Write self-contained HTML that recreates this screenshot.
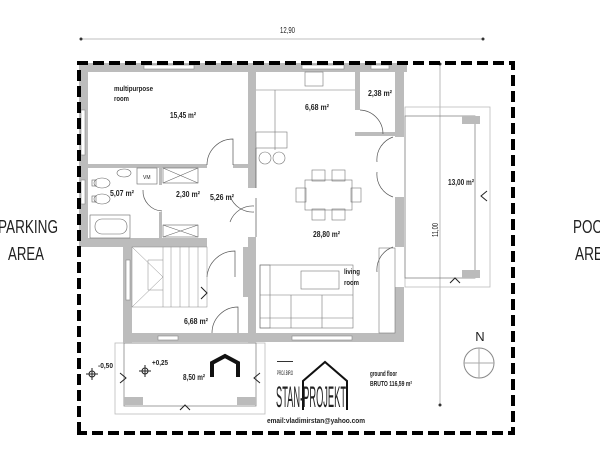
<!DOCTYPE html>
<html><head><meta charset="utf-8"><style>
html,body{margin:0;padding:0;background:#fff;width:600px;height:460px;overflow:hidden}
svg{display:block}
text{font-family:"Liberation Sans Narrow","Liberation Sans",sans-serif;fill:#222}
.b{font-weight:bold}
</style></head><body>
<svg width="600" height="460" viewBox="0 0 600 460" xmlns="http://www.w3.org/2000/svg">
<line x1="81" y1="39" x2="483" y2="39" stroke="#aaa" stroke-width="0.8"/>
<circle cx="81" cy="39" r="1.5" fill="#333"/><circle cx="483" cy="39" r="1.5" fill="#333"/>
<text x="280" y="33" font-size="8" textLength="15" lengthAdjust="spacingAndGlyphs">12,90</text>
<line x1="440" y1="64" x2="440" y2="405" stroke="#aaa" stroke-width="0.8"/>
<circle cx="440" cy="64" r="1.5" fill="#333"/><circle cx="440" cy="405" r="1.5" fill="#333"/>
<text x="0" y="0" font-size="8" transform="translate(438,237) rotate(-90)" textLength="14" lengthAdjust="spacingAndGlyphs">11,00</text>

<rect x="405" y="107" width="85" height="180" fill="none" stroke="#bbb" stroke-width="0.8"/>
<rect x="405" y="116" width="70" height="162" fill="none" stroke="#888" stroke-width="0.8"/>
<rect x="462" y="116" width="18" height="8" fill="#bbb"/>
<rect x="462" y="270" width="18" height="8" fill="#bbb"/>
<text class="b" x="448" y="185" font-size="8" textLength="26" lengthAdjust="spacingAndGlyphs">13,00 m²</text>
<path d="M487 191 L481 196 L487 201" fill="none" stroke="#222" stroke-width="1"/>
<path d="M450 283 L455 278 L460 283" fill="none" stroke="#222" stroke-width="1"/>

<rect x="115" y="343" width="150" height="71" fill="none" stroke="#bbb" stroke-width="0.8"/>
<rect x="124" y="343" width="132" height="63" fill="none" stroke="#888" stroke-width="0.8"/>
<rect x="124" y="397" width="19" height="8" fill="#bbb"/>
<rect x="237" y="397" width="19" height="8" fill="#bbb"/>
<path d="M120 373 L126 378 L120 383" fill="none" stroke="#222" stroke-width="1"/>
<path d="M260 373 L254 378 L260 383" fill="none" stroke="#222" stroke-width="1"/>
<path d="M180 410 L185 405 L190 410" fill="none" stroke="#222" stroke-width="1"/>
<text class="b" x="183" y="380" font-size="8" textLength="22" lengthAdjust="spacingAndGlyphs">8,50 m²</text>
<path d="M212 377 V363 L225 356 L238 363 V377" fill="none" stroke="#111" stroke-width="4"/>
<g stroke="#222" fill="none"><circle cx="92" cy="374" r="3"/><line x1="86" y1="374" x2="98" y2="374"/><line x1="92" y1="368" x2="92" y2="380"/>
<circle cx="145" cy="371" r="3"/><line x1="139" y1="371" x2="151" y2="371"/><line x1="145" y1="365" x2="145" y2="377"/></g>
<text class="b" x="98" y="368" font-size="7" textLength="15" lengthAdjust="spacingAndGlyphs">-0,50</text>
<text class="b" x="152" y="365" font-size="7" textLength="16" lengthAdjust="spacingAndGlyphs">+0,25</text>

<g fill="#bcbcbc">
<rect x="79" y="63" width="328" height="9"/>
<rect x="79" y="63" width="9" height="184"/>
<rect x="248" y="63" width="8" height="125"/>
<rect x="248" y="237" width="8" height="106"/>
<rect x="395" y="63" width="9" height="74"/>
<rect x="395" y="197" width="9" height="50"/>
<rect x="395" y="287" width="9" height="55"/>
<rect x="88" y="164" width="119" height="4"/>
<rect x="233" y="164" width="17" height="4"/>
<rect x="79" y="238" width="128" height="9"/>
<rect x="123" y="245" width="9" height="98"/>
<rect x="123" y="333" width="133" height="9"/>
<rect x="256" y="333" width="148" height="9"/>
<rect x="159" y="168" width="3" height="17"/>
<rect x="159" y="212" width="3" height="28"/>
<rect x="355" y="72" width="5" height="38"/>
<rect x="355" y="132" width="40" height="4"/>
<rect x="243" y="247" width="5" height="50"/>
</g>
<g fill="#fff" stroke="#888" stroke-width="0.6">
<rect x="144" y="65" width="50" height="4"/><rect x="302" y="65" width="42" height="4"/><rect x="371" y="65" width="18" height="4"/>
<rect x="81" y="110" width="4" height="45"/><rect x="81" y="180" width="4" height="24"/>
<rect x="126" y="260" width="4" height="40"/><rect x="158" y="336" width="20" height="4"/><rect x="292" y="336" width="60" height="4"/>
</g>
<path d="M79 433 V63 H513 V433 Z" fill="none" stroke="#000" stroke-width="4" stroke-dasharray="11,5"/>

<g fill="none" stroke="#555" stroke-width="0.7">
<path d="M207 165 A26 26 0 0 1 233 139 V165"/>
<path d="M256 188 V148 M256 237 V198"/>
<path d="M230 196 A24 24 0 0 0 254 212 M230 222 A24 24 0 0 1 254 206"/>
<path d="M360 110 A24 24 0 0 1 383 134"/>
<path d="M393 137 A24 24 0 0 0 377 162 M393 197 A24 24 0 0 1 377 172"/>
<path d="M393 247 A24 24 0 0 0 377 272"/>
<path d="M143 190 A20 20 0 0 0 162 211"/>
<path d="M207 277 A28 28 0 0 1 235 251 V277"/>
<path d="M212 333 A26 26 0 0 1 238 307 V333"/>
</g>

<g fill="none" stroke="#666" stroke-width="0.6">
<ellipse cx="124" cy="173" rx="7" ry="4"/>
<ellipse cx="102" cy="183" rx="8" ry="5"/><rect x="92" y="180" width="4" height="6"/>
<ellipse cx="102" cy="199" rx="8" ry="5"/><rect x="92" y="196" width="4" height="6"/>
<rect x="90" y="215" width="40" height="23"/><rect x="95" y="219" width="32" height="15" rx="7"/>
<rect x="137" y="168" width="20" height="16"/>
<rect x="163" y="168" width="35" height="15"/><path d="M163 168 L198 183 M198 168 L163 183"/>
<rect x="163" y="225" width="35" height="12"/><path d="M163 225 L198 237 M198 225 L163 237"/>
</g>
<text x="143" y="179" font-size="5">VM</text>

<g fill="none" stroke="#888" stroke-width="0.5">
<rect x="132" y="247" width="75" height="60"/>
<path d="M163 247 V307 M171 247 V307 M180 247 V307 M189 247 V307 M198 247 V307"/>
<path d="M148 260 H163 M148 260 V290 H163 M132 247 L163 277 L132 307"/>
</g>
<path d="M201 287 L207 293 L201 299" fill="none" stroke="#222" stroke-width="1"/>

<g fill="none" stroke="#777" stroke-width="0.6">
<path d="M256 90 H355 M275 90 V150"/>
<rect x="256" y="132" width="31" height="16"/>
<rect x="305" y="72" width="18" height="14"/>
<circle cx="265" cy="158" r="6"/><circle cx="279" cy="158" r="6"/>
<rect x="305" y="180" width="47" height="30"/>
<rect x="312" y="170" width="13" height="11"/><rect x="332" y="170" width="13" height="11"/>
<rect x="312" y="209" width="13" height="11"/><rect x="332" y="209" width="13" height="11"/>
<rect x="296" y="188" width="10" height="14"/><rect x="351" y="188" width="10" height="14"/>
<rect x="260" y="265" width="93" height="63"/><rect x="260" y="265" width="10" height="63"/>
<path d="M260 295 H353 M260 318 H353 M291 295 V328 M322 295 V328"/>
<rect x="301" y="271" width="38" height="18"/>
<rect x="379" y="248" width="16" height="85"/>
</g>

<g font-size="7" class="b">
<text x="114" y="91" textLength="39" lengthAdjust="spacingAndGlyphs">multipurpose</text><text x="114" y="101" textLength="15" lengthAdjust="spacingAndGlyphs">room</text>
<text x="170" y="118" font-size="8" textLength="26" lengthAdjust="spacingAndGlyphs">15,45 m²</text>
<text x="110" y="196" font-size="8" textLength="24" lengthAdjust="spacingAndGlyphs">5,07 m²</text>
<text x="176" y="197" font-size="8" textLength="24" lengthAdjust="spacingAndGlyphs">2,30 m²</text>
<text x="210" y="200" font-size="8" textLength="24" lengthAdjust="spacingAndGlyphs">5,26 m²</text>
<text x="184" y="324" font-size="8" textLength="24" lengthAdjust="spacingAndGlyphs">6,68 m²</text>
<text x="305" y="110" font-size="8" textLength="24" lengthAdjust="spacingAndGlyphs">6,68 m²</text>
<text x="368" y="96" font-size="8" textLength="24" lengthAdjust="spacingAndGlyphs">2,38 m²</text>
<text x="313" y="237" font-size="8" textLength="27" lengthAdjust="spacingAndGlyphs">28,80 m²</text>
<text x="344" y="274" textLength="16" lengthAdjust="spacingAndGlyphs">living</text><text x="344" y="285" textLength="15" lengthAdjust="spacingAndGlyphs">room</text>
<text x="370" y="376" textLength="27" lengthAdjust="spacingAndGlyphs">ground floor</text><text x="370" y="386" textLength="42" lengthAdjust="spacingAndGlyphs">BRUTO 116,59 m²</text>
<text x="267" y="423" textLength="98" lengthAdjust="spacingAndGlyphs">email:vladimirstan@yahoo.com</text>
</g>

<text x="277" y="375" font-size="6" textLength="16" lengthAdjust="spacingAndGlyphs">PROJ.BIRO</text>
<rect x="277" y="361" width="16" height="1" fill="#333"/>
<path d="M303 410 V381 L325 362 L347 381 V410" fill="none" stroke="#111" stroke-width="2"/>
<text x="276" y="407" font-size="30" textLength="70" lengthAdjust="spacingAndGlyphs">STAN-PROJEKT</text>

<text x="480" y="341" font-size="13" text-anchor="middle" style="font-family:'Liberation Sans',sans-serif">N</text>
<circle cx="479" cy="363" r="15" fill="none" stroke="#888"/>
<path d="M464 363 H494 M479 348 V378" stroke="#aaa"/>

<g font-size="18">
<text x="-2" y="233" textLength="60" lengthAdjust="spacingAndGlyphs">PARKING</text><text x="8" y="260" textLength="36" lengthAdjust="spacingAndGlyphs">AREA</text>
<text x="573" y="233" textLength="30" lengthAdjust="spacingAndGlyphs">POO</text><text x="575" y="260" textLength="28" lengthAdjust="spacingAndGlyphs">ARE</text>
</g>
</svg>
</body></html>
